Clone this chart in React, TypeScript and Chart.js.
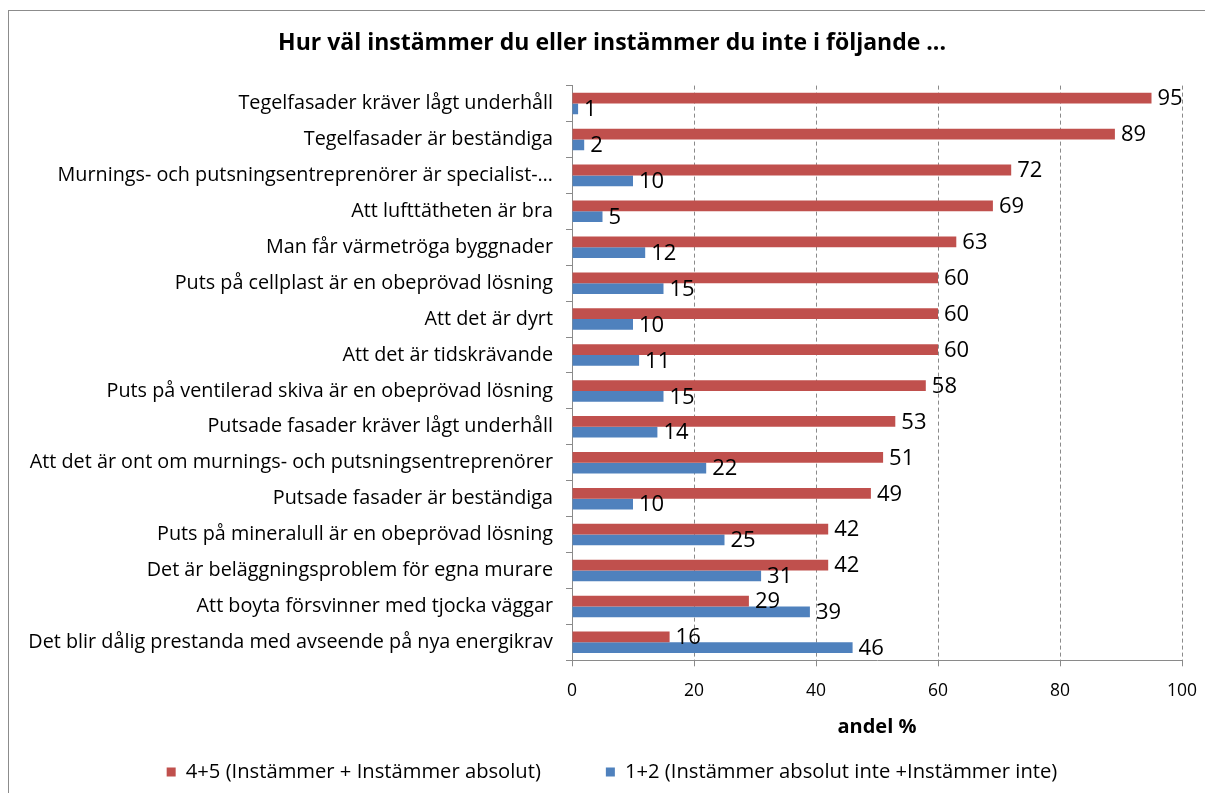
import React, { useEffect, useRef } from "react";
import { Chart, registerables } from "chart.js";

Chart.register(...registerables);

const TITLE = "Hur väl instämmer du eller instämmer du inte i följande ...";
const X_TITLE = "andel %";

const categories: string[] = [
  "Tegelfasader kräver lågt underhåll",
  "Tegelfasader är beständiga",
  "Murnings- och putsningsentreprenörer är specialist-…",
  "Att lufttätheten är bra",
  "Man får värmetröga byggnader",
  "Puts på cellplast är en obeprövad lösning",
  "Att det är dyrt",
  "Att det är tidskrävande",
  "Puts på ventilerad skiva är en obeprövad lösning",
  "Putsade fasader kräver lågt underhåll",
  "Att det är ont om murnings- och putsningsentreprenörer",
  "Putsade fasader är beständiga",
  "Puts på mineralull är en obeprövad lösning",
  "Det är beläggningsproblem för egna murare",
  "Att boyta försvinner med tjocka väggar",
  "Det blir dålig prestanda med avseende på nya energikrav",
];

const seriesAgreeLabel = "4+5 (Instämmer + Instämmer absolut)";
const seriesAgree: number[] = [95, 89, 72, 69, 63, 60, 60, 60, 58, 53, 51, 49, 42, 42, 29, 16];

const seriesDisagreeLabel = "1+2 (Instämmer absolut inte +Instämmer inte)";
const seriesDisagree: number[] = [1, 2, 10, 5, 12, 15, 10, 11, 15, 14, 22, 10, 25, 31, 39, 46];

const xTicks: number[] = [0, 20, 40, 60, 80, 100];

const FONT = "'Open Sans', 'Noto Sans', sans-serif";

const valueLabels = {
  id: "valueLabels",
  afterDatasetsDraw(chart: any) {
    const ctx = chart.ctx;
    ctx.save();
    ctx.font = `22px ${FONT}`;
    ctx.fillStyle = "#000";
    ctx.textAlign = "left";
    ctx.textBaseline = "middle";
    chart.data.datasets.forEach((ds: any, di: number) => {
      const meta = chart.getDatasetMeta(di);
      meta.data.forEach((bar: any, i: number) => {
        ctx.fillText(String(ds.data[i]), bar.x + 6, bar.y + 1);
      });
    });
    ctx.restore();
  },
};

const unclipYLabels = {
  id: "unclipYLabels",
  afterLayout(chart: any) {
    const y = chart.scales.y;
    if (y) y.left = 0;
  },
};

export default function App() {
  const ref = useRef<HTMLCanvasElement | null>(null);
  useEffect(() => {
    if (!ref.current) return;
    const chart = new Chart(ref.current, {
      type: "bar",
      data: {
        labels: categories,
        datasets: [
          {
            label: seriesAgreeLabel,
            data: seriesAgree,
            backgroundColor: "#C0504D",
            categoryPercentage: 0.6,
            barPercentage: 1.0,
          },
          {
            label: seriesDisagreeLabel,
            data: seriesDisagree,
            backgroundColor: "#4F81BD",
            categoryPercentage: 0.6,
            barPercentage: 1.0,
          },
        ],
      },
      options: {
        indexAxis: "y",
        animation: false,
        responsive: false,
        maintainAspectRatio: false,
        layout: { padding: { left: 33, right: 23, top: 0, bottom: 1 } },
        plugins: {
          title: {
            display: true,
            text: TITLE,
            color: "#000",
            font: { family: FONT, size: 23, weight: "bold", lineHeight: 1.2 },
            padding: { top: 19, bottom: 28 },
          },
          legend: {
            position: "bottom",
            labels: {
              color: "#000",
              font: { family: FONT, size: 20.2 },
              boxWidth: 9,
              boxHeight: 9,
              padding: 65,
            },
          },
          tooltip: { enabled: false },
        },
        scales: {
          x: {
            type: "linear",
            min: 0,
            max: 100,
            afterFit(scale: any) {
              scale.height = 36.5;
              scale.paddingLeft = 0;
              scale.paddingRight = 0;
            },
            afterBuildTicks(scale: any) {
              scale.ticks = xTicks.map((v) => ({ value: v }));
            },
            grid: {
              drawOnChartArea: false,
              drawTicks: true,
              tickLength: 6,
              color: "#8a8a8a",
            },
            border: { display: true, color: "#8a8a8a" },
            ticks: {
              color: "#000",
              font: { family: FONT, size: 17.5 },
              padding: 14,
              maxRotation: 0,
            },
            title: {
              display: true,
              text: X_TITLE,
              color: "#000",
              font: { family: FONT, size: 20, weight: "bold", lineHeight: 1.2 },
              padding: { top: 0, bottom: -42 },
            },
          },
          y: {
            afterFit(scale: any) {
              scale.width = 563 - 33;
            },
            grid: {
              drawOnChartArea: false,
              drawTicks: true,
              tickLength: 6,
              color: "#8a8a8a",
            },
            border: { display: true, color: "#8a8a8a" },
            ticks: {
              color: "#000",
              font: { family: FONT, size: 19.8 },
              padding: 13,
              autoSkip: false,
            },
          },
        },
      },
      plugins: [
        valueLabels,
        unclipYLabels,
        {
          id: "dashGrid",
          beforeDatasetsDraw(chart: any) {
            const { ctx, chartArea, scales } = chart;
            const xs = scales.x;
            ctx.save();
            ctx.strokeStyle = "#8a8a8a";
            ctx.lineWidth = 1;
            ctx.setLineDash([4, 3]);
            xs.ticks.forEach((t: any) => {
              if (t.value === 0) return;
              const px = Math.round(xs.getPixelForValue(t.value)) + 0.5;
              ctx.beginPath();
              ctx.moveTo(px, chartArea.top);
              ctx.lineTo(px, chartArea.bottom);
              ctx.stroke();
            });
            ctx.restore();
          },
        },
      ],
    });
    return () => chart.destroy();
  }, []);

  return (
    <div
      style={{
        position: "fixed",
        left: 8,
        top: 10,
        width: 1197,
        height: 783,
        borderTop: "1px solid #8c8c8c",
        borderLeft: "1px solid #8c8c8c",
        boxSizing: "border-box",
        background: "#fff",
      }}
    >
      <canvas ref={ref} width={1196} height={782} style={{ display: "block" }} />
    </div>
  );
}
